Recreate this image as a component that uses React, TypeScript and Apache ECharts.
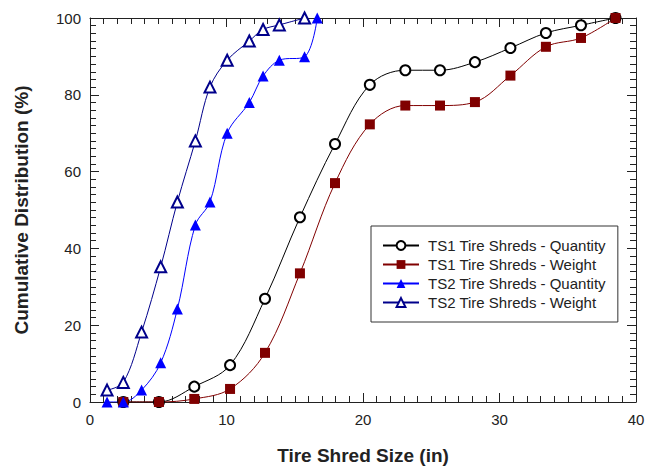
import React, { useEffect, useRef } from "react";
import * as echarts from "echarts";

const ts1Sizes = [2.44, 5.05, 7.64, 10.26, 12.82, 15.38, 17.95, 20.5, 23.1, 25.64, 28.2, 30.8, 33.4, 35.97, 38.5];
const ts1Quantity = [0, 0, 4.0, 9.6, 26.9, 48.1, 67.2, 82.6, 86.4, 86.4, 88.5, 92.2, 96.1, 98.1, 100];
const ts1Weight = [0, 0, 0.8, 3.4, 12.8, 33.5, 57.0, 72.3, 77.2, 77.2, 78.1, 85.0, 92.5, 94.8, 100];

const ts2Sizes = [1.25, 2.44, 3.78, 5.18, 6.4, 7.72, 8.79, 10.05, 11.67, 12.68, 13.87, 15.72, 16.65];
const ts2Quantity = [0, 0, 3.1, 10.2, 24.2, 46.1, 52.1, 70.0, 78.0, 84.9, 89.0, 89.9, 100];
const ts2Weight = [3.1, 5.1, 18.2, 35.2, 52.1, 68.0, 82.0, 89.0, 94.0, 97.0, 98.2, 100];

const xTicks = [0, 10, 20, 30, 40];
const yTicks = [0, 20, 40, 60, 80, 100];

const seriesNames = [
  "TS1 Tire Shreds - Quantity",
  "TS1 Tire Shreds - Weight",
  "TS2 Tire Shreds - Quantity",
  "TS2 Tire Shreds - Weight",
];

const pairs = (xs: number[], ys: number[]) => ys.map((y, i) => [xs[i], y]);

const FONT = "'Liberation Sans', Arial, sans-serif";
const AXIS_COLOR = "#222";

export default function App() {
  const ref = useRef<HTMLDivElement>(null);

  useEffect(() => {
    if (!ref.current) return;
    const chart = echarts.init(ref.current, undefined, { renderer: "svg" });

    const baseAxis = (min: number, max: number, interval: number) => ({
      type: "value" as const,
      min,
      max,
      interval,
      axisLine: { show: true, onZero: false, lineStyle: { color: AXIS_COLOR, width: 1 } },
      axisTick: { show: true, inside: true, length: 9, lineStyle: { color: AXIS_COLOR, width: 1 } },
      minorTick: { show: true, splitNumber: 10, length: 6, lineStyle: { color: AXIS_COLOR, width: 1 } },
      splitLine: { show: false },
    });

    const xMax = xTicks[xTicks.length - 1];
    const yMax = yTicks[yTicks.length - 1];

    chart.setOption({
      animation: false,
      backgroundColor: "#fff",
      grid: { left: 90, right: 16, top: 18, bottom: 64, containLabel: false },
      xAxis: [
        {
          ...baseAxis(xTicks[0], xMax, 10),
          position: "bottom",
          name: "Tire Shred Size (in)",
          nameLocation: "middle",
          nameGap: 44,
          nameTextStyle: { fontFamily: FONT, fontSize: 19, fontWeight: "bold", color: "#222" },
          axisLabel: { fontFamily: FONT, fontSize: 15, color: "#222", margin: 10 },
        },
        {
          ...baseAxis(xTicks[0], xMax, 10),
          position: "top",
          axisLabel: { show: false },
        },
      ],
      yAxis: [
        {
          ...baseAxis(yTicks[0], yMax, 20),
          position: "left",
          name: "Cumulative Distribution (%)",
          nameLocation: "middle",
          nameGap: 59,
          nameTextStyle: { fontFamily: FONT, fontSize: 19, fontWeight: "bold", color: "#222" },
          axisLabel: { fontFamily: FONT, fontSize: 15, color: "#222", margin: 9 },
        },
        {
          ...baseAxis(yTicks[0], yMax, 20),
          position: "right",
          axisLabel: { show: false },
        },
      ],
      legend: {
        orient: "vertical",
        left: 371,
        top: 226,
        padding: [12, 12, 12, 11],
        itemGap: 4,
        itemWidth: 36,
        itemHeight: 11,
        borderColor: "#333",
        borderWidth: 1,
        borderRadius: 0,
        backgroundColor: "#fff",
        textStyle: { fontFamily: FONT, fontSize: 15, color: "#222", padding: [0, 0, 0, 4] },
        data: seriesNames,
      },
      series: [
        {
          name: seriesNames[0],
          type: "line",
          xAxisIndex: 0,
          yAxisIndex: 0,
          data: pairs(ts1Sizes, ts1Quantity),
          smooth: 0.35,
          symbol: "emptyCircle",
          symbolSize: 10,
          color: "#000",
          lineStyle: { color: "#000", width: 1 },
          itemStyle: { color: "#000", borderColor: "#000", borderWidth: 0.9 },
        },
        {
          name: seriesNames[1],
          type: "line",
          xAxisIndex: 0,
          yAxisIndex: 0,
          data: pairs(ts1Sizes, ts1Weight),
          smooth: 0.35,
          symbol: "rect",
          symbolSize: 10,
          color: "#800000",
          lineStyle: { color: "#800000", width: 1 },
          itemStyle: { color: "#800000" },
        },
        {
          name: seriesNames[2],
          type: "line",
          xAxisIndex: 0,
          yAxisIndex: 0,
          data: pairs(ts2Sizes, ts2Quantity),
          smooth: 0.35,
          symbol: "triangle",
          symbolSize: 11,
          color: "#0000ff",
          lineStyle: { color: "#0000ff", width: 1 },
          itemStyle: { color: "#0000ff" },
        },
        {
          name: seriesNames[3],
          type: "line",
          xAxisIndex: 0,
          yAxisIndex: 0,
          data: pairs(ts2Sizes, ts2Weight),
          smooth: 0.35,
          symbol: "emptyTriangle",
          symbolSize: 11,
          color: "#00008b",
          lineStyle: { color: "#00008b", width: 1 },
          itemStyle: { color: "#00008b", borderColor: "#00008b", borderWidth: 0.9 },
        },
      ],
    });

    return () => chart.dispose();
  }, []);

  return (
    <div
      ref={ref}
      style={{ position: "absolute", left: 0, top: 0, width: 652, height: 470 }}
    />
  );
}
